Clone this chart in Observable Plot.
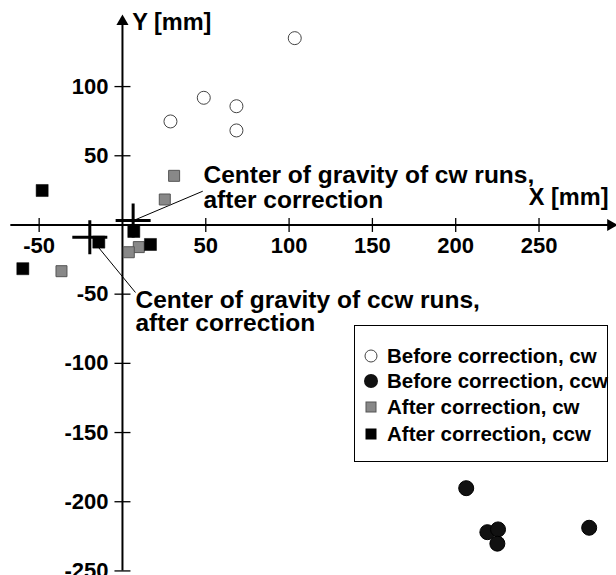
<!DOCTYPE html>
<html><head><meta charset="utf-8">
<script src="https://cdn.jsdelivr.net/npm/d3@7"></script>
<script src="https://cdn.jsdelivr.net/npm/@observablehq/plot@0.6"></script>
<style>
body{margin:0;background:#fff;}
#wrap{position:relative;width:616px;height:575px;font-family:"Liberation Sans",Arial,sans-serif;}
#legend{position:absolute;left:354px;top:325px;width:254px;height:137px;border:1px solid #000;background:#fff;box-sizing:border-box;}
.row{position:absolute;left:8px;height:24px;display:flex;align-items:center;font-weight:bold;font-size:20.5px;color:#000;white-space:nowrap;}
.row svg{margin-right:8px;}
</style></head><body><div id="wrap"></div>
<script>
// ---- data (mm) ----
const beforeCwX = [103.4, 48.8, 68.4, 28.8, 68.4];
const beforeCwY = [135.0, 91.9, 85.8, 74.8, 68.3];
const beforeCcwX = [206.3, 219.0, 225.4, 225.0, 280.1];
const beforeCcwY = [-190.2, -222.0, -220.0, -230.3, -218.8];
const afterCwX = [31.0, 25.4, 9.8, 3.8, -36.6];
const afterCwY = [35.5, 18.4, -16.0, -19.7, -33.4];
const afterCcwX = [-48.2, -59.8, -14.2, 6.8, 16.8];
const afterCcwY = [24.9, -31.6, -12.4, -4.7, -14.1];
const centerNames = ["cw", "ccw"];
const centerX = [6.4, -19.6];
const centerY = [3.3, -8.8];
const xTicks = [-50, 50, 100, 150, 200, 250];
const yTicks = [100, 50, -50, -100, -150, -200, -250];
const seriesNames = ["Before correction, cw", "Before correction, ccw", "After correction, cw", "After correction, ccw"];
const noteCw = "Center of gravity of cw runs,\nafter correction";
const noteCcw = "Center of gravity of ccw runs,\nafter correction";
const noteX = [48.6, 7.8];
const noteY = [27.3, -62.9];
const leaderX1 = [7.8, -14.2], leaderY1 = [3.8, -16.5];
const leaderX2 = [48.2, 7.8], leaderY2 = [24.4, -48.8];
const axisTitles = ["Y [mm]", "X [mm]"];

const zip = (xs, ys) => xs.map((x, i) => ({x, y: ys[i]}));
const beforeCw = zip(beforeCwX, beforeCwY);
const beforeCcw = zip(beforeCcwX, beforeCcwY);
const afterCw = zip(afterCwX, afterCwY);
const afterCcw = zip(afterCcwX, afterCcwY);
const centers = centerNames.map((n, i) => ({n, x: centerX[i], y: centerY[i]}));
const leaders = leaderX1.map((x1, i) => ({x1, y1: leaderY1[i], x2: leaderX2[i], y2: leaderY2[i]}));

const vTick = {draw(c){ c.moveTo(0, -7); c.lineTo(0, 7); }};
const hTick = {draw(c){ c.moveTo(-8, 0); c.lineTo(8, 0); }};
const cross = {draw(c){ c.moveTo(-17.5, 0); c.lineTo(17.5, 0); c.moveTo(0, -17); c.lineTo(0, 17); }};

const font = "Liberation Sans, Arial, sans-serif";
const chart = Plot.plot({
  width: 616, height: 575,
  marginTop: 0, marginRight: 0, marginBottom: 0, marginLeft: 0,
  x: {domain: [-73.2, 296.5], axis: null},
  y: {domain: [-253.3, 162.2], axis: null},
  style: {fontFamily: font, background: "#fff"},
  marks: [
    // axes
    Plot.ruleY([0], {x1: -67, x2: 292, stroke: "#000", strokeWidth: 2}),
    Plot.ruleX([0], {y1: -250, y2: 148, stroke: "#000", strokeWidth: 2}),
    Plot.dot([{x: 0, y: 147}], {x: "x", y: "y", symbol: "triangle", r: 4.5, fill: "#000", stroke: "none"}),
    Plot.dot([{x: 293, y: 0}], {x: "x", y: "y", symbol: "triangle", r: 4.5, fill: "#000", stroke: "none", rotate: 90}),
    Plot.dot(xTicks, {x: d => d, y: 0, symbol: vTick, fill: "none", stroke: "#000", strokeWidth: 1.3}),
    Plot.dot(yTicks, {x: 0, y: d => d, symbol: hTick, fill: "none", stroke: "#000", strokeWidth: 1.3}),
    Plot.text(xTicks, {x: d => d, y: 0, dy: 21, text: d => String(d), textAnchor: "middle", fontSize: 22, fontWeight: "bold", fill: "#000"}),
    Plot.text(yTicks, {x: 0, y: d => d, dx: -14, text: d => String(d), textAnchor: "end", fontSize: 22, fontWeight: "bold", fill: "#000"}),
    Plot.text([axisTitles[0]], {x: 5.8, y: 146.3, text: d => d, textAnchor: "start", fontSize: 23.5, fontWeight: "bold", fill: "#000"}),
    Plot.text([axisTitles[1]], {x: 291.7, y: 19.9, text: d => d, textAnchor: "end", fontSize: 23.5, fontWeight: "bold", fill: "#000"}),
    // annotations
    Plot.link(leaders, {x1: "x1", y1: "y1", x2: "x2", y2: "y2", stroke: "#000", strokeWidth: 1}),
    Plot.text([noteCw], {x: noteX[0], y: noteY[0], text: d => d, textAnchor: "start", lineAnchor: "middle", lineHeight: 25 / 24.5, fontSize: 24.5, fontWeight: "bold", fill: "#000"}),
    Plot.text([noteCcw], {x: noteX[1], y: noteY[1], text: d => d, textAnchor: "start", lineAnchor: "middle", lineHeight: 23 / 24.5, fontSize: 24.5, fontWeight: "bold", fill: "#000"}),
    // data
    Plot.dot(beforeCw, {x: "x", y: "y", r: 6.5, fill: "#fff", stroke: "#444", strokeWidth: 1}),
    Plot.dot(beforeCcw, {x: "x", y: "y", r: 7.5, fill: "#111", stroke: "#000", strokeWidth: 1}),
    Plot.dot(afterCw, {x: "x", y: "y", symbol: "square", r: 6.2, fill: "#888", stroke: "#555", strokeWidth: 1}),
    Plot.dot(afterCcw, {x: "x", y: "y", symbol: "square", r: 6.8, fill: "#000", stroke: "#000", strokeWidth: 0.5}),
    Plot.dot(centers, {x: "x", y: "y", symbol: cross, fill: "none", stroke: "#000", strokeWidth: 3})
  ]
});
const wrap = document.getElementById("wrap");
wrap.appendChild(chart);

// legend
const legend = document.createElement("div");
legend.id = "legend";
const sym = [
  '<svg width="16" height="16"><circle cx="8" cy="8" r="6" fill="#fff" stroke="#444" stroke-width="1"/></svg>',
  '<svg width="16" height="16"><circle cx="8" cy="8" r="7" fill="#111"/></svg>',
  '<svg width="16" height="16"><rect x="3" y="3" width="10" height="10" fill="#888" stroke="#555"/></svg>',
  '<svg width="16" height="16"><rect x="2.5" y="2.5" width="11" height="11" fill="#000"/></svg>'
];
const rowTops = [18, 43, 69, 96];
seriesNames.forEach((name, i) => {
  const r = document.createElement("div");
  r.className = "row";
  r.style.top = rowTops[i] + "px";
  r.innerHTML = sym[i] + "<span>" + name + "</span>";
  legend.appendChild(r);
});
wrap.appendChild(legend);
</script></body></html>
